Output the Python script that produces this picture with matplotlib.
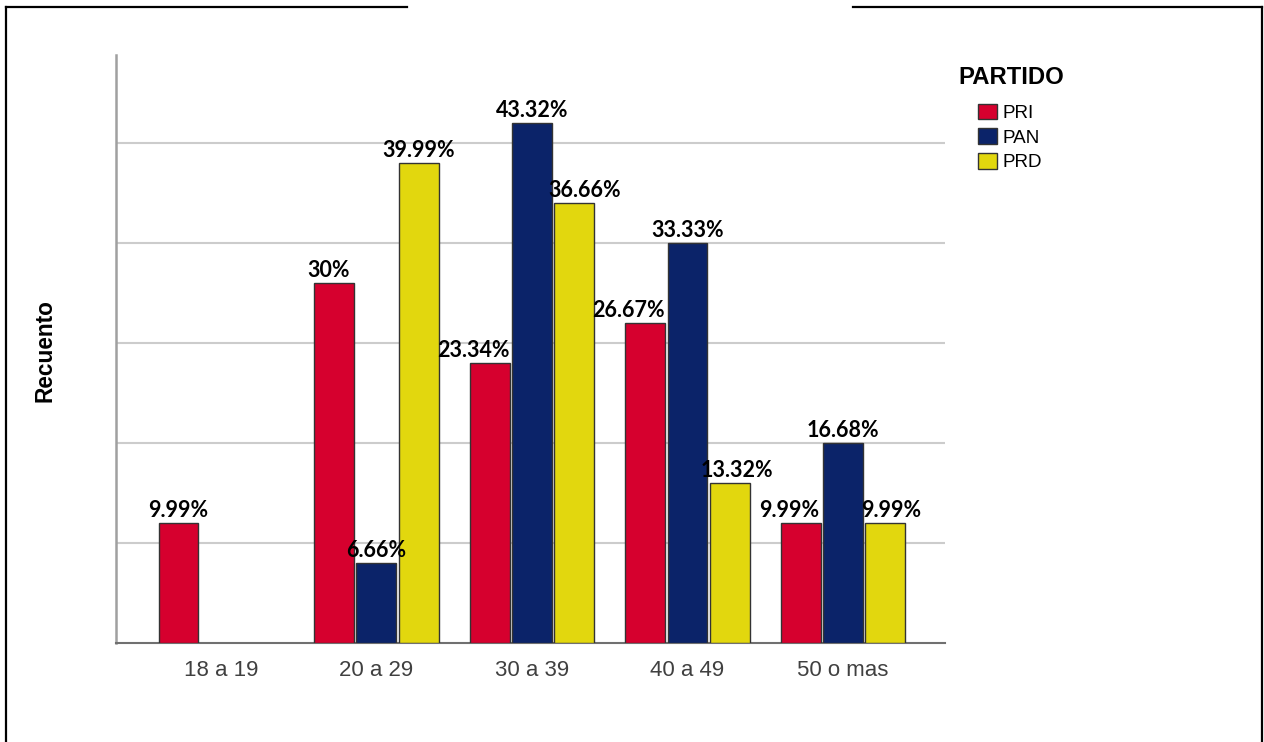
import numpy as np
import matplotlib.pyplot as plt
from matplotlib.lines import Line2D
from matplotlib.patches import Patch

grupos = ['18 a 19', '20 a 29', '30 a 39', '40 a 49', '50 o mas']
partidos = ['PRI', 'PAN', 'PRD']

# recuentos (rejilla cada 5)
pri = [6, 18, 14, 16, 6]
pan = [0, 4, 26, 20, 10]
prd = [0, 24, 22, 8, 6]

pri_txt = ['9.99%', '30%', '23.34%', '26.67%', '9.99%']
pan_txt = ['', '6.66%', '43.32%', '33.33%', '16.68%']
prd_txt = ['', '39.99%', '36.66%', '13.32%', '9.99%']

colores = ['#D6002E', '#0B2369', '#E2D70E']

# desplazamiento horizontal de algunas etiquetas (px)
desp = {
    (0, 1): -5, (0, 2): -16, (0, 3): -17, (0, 4): -11,
    (2, 2): 10, (2, 3): 7, (2, 4): 6,
}

W, H = 1264, 742
fig = plt.figure(figsize=(W / 100, H / 100), dpi=100)
ax = fig.add_axes([116 / W, 1 - 643 / H, (945 - 116) / W, (643 - 55) / H])

x = np.arange(len(grupos))
paso = 0.273
ancho = 0.257
series = [pri, pan, prd]
textos = [pri_txt, pan_txt, prd_txt]

for i, (vals, col) in enumerate(zip(series, colores)):
    xs = x + (i - 1) * paso
    for j, v in enumerate(vals):
        if v == 0:
            continue
        ax.bar(xs[j], v, width=ancho, color=col, edgecolor='#333333',
               linewidth=1.0, zorder=3)
        dx = desp.get((i, j), 0)
        ax.annotate(textos[i][j], (xs[j], v), xytext=(dx * 0.72, 1.5),
                    textcoords='offset points', ha='center', va='bottom',
                    fontsize=15.5, fontweight='bold', family='Lato',
                    color='black', zorder=4)

ax.set_xlim(-0.675, 4.656)
ax.set_ylim(0, 29.4)
ax.set_yticks([5, 10, 15, 20, 25])
ax.set_yticklabels([])
ax.yaxis.grid(True, color='#cccccc', linewidth=1.5, zorder=0)
ax.tick_params(axis='both', length=0)
ax.set_xticks(x)
ax.set_xticklabels(grupos, fontsize=16, color='#404040',
                   family='Liberation Sans')
ax.tick_params(axis='x', pad=12)

for s in ['top', 'right']:
    ax.spines[s].set_visible(False)
ax.spines['left'].set_color('#a0a0a0')
ax.spines['left'].set_linewidth(1.8)
ax.spines['bottom'].set_color('#707070')
ax.spines['bottom'].set_linewidth(1.5)

fig.text(45 / W, 1 - 351 / H, 'Recuento', rotation=90, ha='center',
         va='center', fontsize=16.3, fontweight='bold',
         family='Liberation Sans')

fig.text(958 / W, 1 - 78 / H, 'PARTIDO', ha='left', va='center',
         fontsize=17.2, fontweight='bold', family='Liberation Sans')

handles = [Patch(facecolor=c, edgecolor='#333333', linewidth=1.0)
           for c in colores]
fig.legend(handles, partidos, loc='upper left',
           bbox_to_anchor=(972 / W, 1 - 98 / H), frameon=False,
           prop={'family': 'Liberation Sans', 'size': 13.6},
           handlelength=1.0, handleheight=0.9, handletextpad=0.3,
           labelspacing=0.33, borderaxespad=0, borderpad=0.3)

# marco exterior
kw = dict(color='black', linewidth=1.6, transform=fig.transFigure)
fig.add_artist(Line2D([6 / W, 6 / W], [0, 1 - 7 / H], **kw))
fig.add_artist(Line2D([1262 / W, 1262 / W], [0, 1 - 7 / H], **kw))
fig.add_artist(Line2D([6 / W, 407 / W], [1 - 7 / H, 1 - 7 / H], **kw))
fig.add_artist(Line2D([853 / W, 1262 / W], [1 - 7 / H, 1 - 7 / H], **kw))

fig.savefig('out.png', dpi=100)
